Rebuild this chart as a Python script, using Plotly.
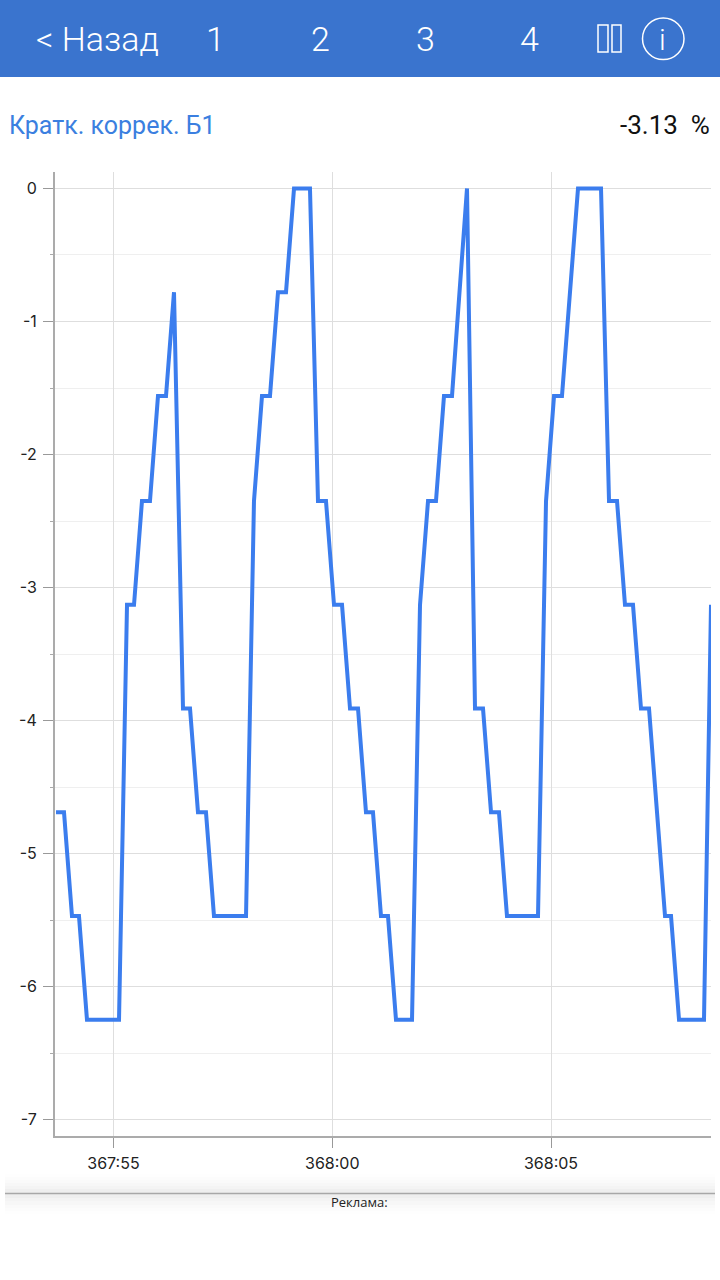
import plotly.graph_objects as go

# seconds after 367:55
elapsed = [-1.314, -1.131, -0.949, -0.789, -0.606, 0.126, 0.309, 0.469, 0.651, 0.834, 1.017, 1.2, 1.383,
           1.589, 1.749, 1.931, 2.114, 2.297, 3.029, 3.211, 3.394, 3.577, 3.76, 3.943, 4.126, 4.491,
           4.674, 4.857, 5.04, 5.223, 5.406, 5.589, 5.771, 5.931, 6.114, 6.274, 6.457, 6.823, 7.006,
           7.189, 7.371, 7.554, 7.737, 8.08, 8.263, 8.446, 8.629, 8.811, 8.994, 9.703, 9.886, 10.069,
           10.251, 10.617, 11.143, 11.326, 11.509, 11.691, 11.874, 12.057, 12.24, 12.606, 12.743,
           12.926, 13.497, 13.657]
correction = [-4.69, -4.69, -5.47, -5.47, -6.25, -6.25, -3.13, -3.13, -2.35, -2.35, -1.56, -1.56, -0.78,
              -3.91, -3.91, -4.69, -4.69, -5.47, -5.47, -2.35, -1.56, -1.56, -0.78, -0.78, 0, 0,
              -2.35, -2.35, -3.13, -3.13, -3.91, -3.91, -4.69, -4.69, -5.47, -5.47, -6.25, -6.25, -3.13,
              -2.35, -2.35, -1.56, -1.56, 0, -3.91, -3.91, -4.69, -4.69, -5.47, -5.47, -2.35, -1.56,
              -1.56, 0, 0, -2.35, -2.35, -3.13, -3.13, -3.91, -3.91, -5.47, -5.47,
              -6.25, -6.25, -3.13]
x_ticks = [0, 5, 10]
x_labels = ["367:55", "368:00", "368:05"]
y_ticks = [0, -1, -2, -3, -4, -5, -6, -7]
y_labels = ["0", "-1", "-2", "-3", "-4", "-5", "-6", "-7"]
y_minor = [-0.5, -1.5, -2.5, -3.5, -4.5, -5.5, -6.5]
tabs = ["1", "2", "3", "4"]
title = "Кратк. коррек. Б1"
current = "-3.13  %"

W, H = 720, 1280
HEADER = "#3A74CE"
BLUE = "#3B7DEE"
UI = "Roboto"


def px(v):
    return v / W


def py(v):
    return 1 - v / H


fig = go.Figure(go.Scatter(x=elapsed, y=correction, mode="lines",
                           line=dict(color=BLUE, width=4), hoverinfo="skip"))

shapes = [dict(type="rect", xref="paper", yref="paper", x0=0, x1=1, y0=py(77), y1=1,
               fillcolor=HEADER, line_width=0, layer="below")]
# footer shadow
for top, bottom, op in [(1174, 1214, 0.005), (1177, 1211, 0.006), (1180, 1208, 0.008), (1183, 1205, 0.01),
                        (1186, 1201, 0.012), (1189, 1198, 0.018)]:
    shapes.append(dict(type="rect", xref="paper", yref="paper", x0=px(5), x1=px(715), y0=py(bottom), y1=py(top),
                       fillcolor="#000", opacity=op, line_width=0, layer="below"))
shapes.append(dict(type="line", xref="paper", yref="paper", x0=px(5), x1=px(715), y0=py(1193.5), y1=py(1193.5),
                   line=dict(color="#A8A8A8", width=1.5)))
# pause and info icons
for a, b in [(598, 608), (612, 621)]:
    shapes.append(dict(type="rect", xref="paper", yref="paper", x0=px(a), x1=px(b), y0=py(52), y1=py(25),
                       line=dict(color="white", width=1.5)))
shapes.append(dict(type="circle", xref="paper", yref="paper", x0=px(642.5), x1=px(684), y0=py(59.5), y1=py(18),
                   line=dict(color="white", width=1.5)))

ann = []


def text(x, y, s, size, color, anchor="center", family=UI, weight=None):
    ann.append(dict(xref="paper", yref="paper", x=px(x), y=py(y), text=s, showarrow=False, xanchor=anchor,
                    yanchor="middle", font=dict(size=size, color=color, family=family, weight=weight)))


text(34, 39, "&lt; Назад", 34, "white", "left", weight=300)
for xc, s in zip([215, 320, 425.5, 529], tabs):
    text(xc, 39, s, 34, "white", weight=300)
text(662.5, 39, "i", 30, "white", weight=300)
text(7, 126, title, 25, "#3B7FE0", "left")
text(712, 125, current, 26, "#111", "right")
text(359.5, 1202, "Реклама:", 13, "#222", family="Open Sans")

TICK_FONT = dict(size=16, color="#222", family="Inter")

fig.update_layout(
    width=W, height=H, margin=dict(l=0, r=0, t=0, b=0), paper_bgcolor="white", plot_bgcolor="white",
    showlegend=False, shapes=shapes, annotations=ann,
    font=dict(family="Inter", color="#222", size=15),
    xaxis=dict(domain=[px(55), px(711)], range=[-1.337, 13.657], tickmode="array", tickvals=x_ticks,
               ticktext=x_labels, showline=True, linecolor="#ABABAB", linewidth=2, ticks="outside", ticklen=10,
               tickcolor="#999", tickwidth=1, showgrid=True, gridcolor="#DEDEDE", gridwidth=1, zeroline=False,
               tickfont=TICK_FONT, ticklabelstandoff=2),
    yaxis=dict(domain=[py(1136), py(172)], range=[-7.124, 0.124], tickmode="array", tickvals=y_ticks,
               ticktext=y_labels, showline=True, linecolor="#ABABAB", linewidth=2, ticks="outside", ticklen=10,
               tickcolor="#999", tickwidth=1, showgrid=True, gridcolor="#DEDEDE", gridwidth=1, zeroline=False,
               tickfont=TICK_FONT, ticklabelstandoff=3,
               minor=dict(tickmode="array", tickvals=y_minor, ticks="outside", ticklen=3, tickcolor="#AAA",
                          showgrid=True, gridcolor="#EFEFEF", gridwidth=1)),
)

fig.write_html("out.html", config=dict(displayModeBar=False),
               post_script="document.body.style.margin='0';document.body.style.overflow='hidden';")
